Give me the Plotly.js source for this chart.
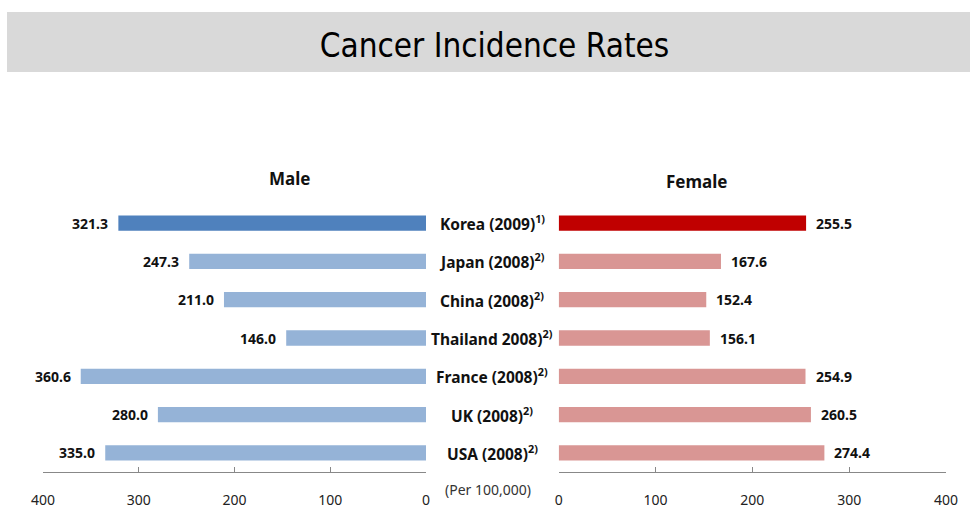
<!DOCTYPE html>
<html>
<head>
<meta charset="utf-8">
<script src="https://cdn.plot.ly/plotly-3.0.1.min.js"></script>
<style>html,body{margin:0;padding:0;background:#fff;}#chart{width:970px;height:510px;}</style>
</head>
<body>
<div id="chart"></div>
<script>
const countries = ["Korea (2009)", "Japan (2008)", "China (2008)", "Thailand 2008)", "France (2008)", "UK (2008)", "USA (2008)"];
const notes = ["1)", "2)", "2)", "2)", "2)", "2)", "2)"];
const male = [321.3, 247.3, 211.0, 146.0, 360.6, 280.0, 335.0];
const female = [255.5, 167.6, 152.4, 156.1, 254.9, 260.5, 274.4];
const ticks = [0, 100, 200, 300, 400];

const W = 970, H = 510;
const M = {l: 43, r: 24, t: 204, b: 38};
const pw = W - M.l - M.r, ph = H - M.t - M.b;
const px = x => (x - M.l) / pw;
const py = y => (H - M.b - y) / ph;

const maleColors = countries.map((c, i) => i === 0 ? "#4f81bd" : "#95b3d7");
const femaleColors = countries.map((c, i) => i === 0 ? "#c00000" : "#d99694");

const fontMain = "Noto Sans, Open Sans, sans-serif";

const traces = [
  {type: "bar", orientation: "h", x: male, y: countries, xaxis: "x", yaxis: "y",
   marker: {color: maleColors}, width: 0.4, hoverinfo: "x+y"},
  {type: "bar", orientation: "h", x: female, y: countries, xaxis: "x2", yaxis: "y2",
   marker: {color: femaleColors}, width: 0.4, hoverinfo: "x+y"}
];

const annotations = [];
countries.forEach((c, i) => {
  annotations.push({xref: "paper", yref: "y", x: px(492), y: c, text: "<b>" + c + "<sup>" + notes[i] + "</sup></b>",
    showarrow: false, xanchor: "center", yanchor: "middle", font: {family: fontMain, size: 15.5, color: "#111"}});
  annotations.push({xref: "x", yref: "y", x: male[i], y: c, text: "<b>" + male[i].toFixed(1) + "</b>",
    showarrow: false, xanchor: "right", xshift: -8, yanchor: "middle", font: {family: fontMain, size: 14, color: "#111"}});
  annotations.push({xref: "x2", yref: "y2", x: female[i], y: c, text: "<b>" + female[i].toFixed(1) + "</b>",
    showarrow: false, xanchor: "left", xshift: 8, yanchor: "middle", font: {family: fontMain, size: 14, color: "#111"}});
});
annotations.push({xref: "paper", yref: "paper", x: px(289), y: py(179), text: "<b>Male</b>", showarrow: false,
  xanchor: "center", yanchor: "middle", font: {family: fontMain, size: 17, color: "#111"}});
annotations.push({xref: "paper", yref: "paper", x: px(696), y: py(181), text: "<b>Female</b>", showarrow: false,
  xanchor: "center", yanchor: "middle", font: {family: fontMain, size: 17, color: "#111"}});
annotations.push({xref: "paper", yref: "paper", x: px(488), y: py(489), text: "(Per 100,000)", showarrow: false,
  xanchor: "center", yanchor: "middle", font: {family: fontMain, size: 14, color: "#333"}});

const axisCommon = {
  tickvals: ticks, ticks: "inside", ticklen: 5, tickcolor: "#888", showline: true, linecolor: "#888", linewidth: 1,
  showgrid: false, zeroline: false, tickfont: {family: fontMain, size: 14, color: "#222"}, ticklabelstandoff: 15, fixedrange: true
};

const layout = {
  width: W, height: H, margin: M, paper_bgcolor: "#fff", plot_bgcolor: "#fff", showlegend: false,
  title: {text: "Cancer Incidence Rates", x: 0.5, xref: "paper", xanchor: "center", y: 1 - 45 / H, yanchor: "middle",
    font: {family: "Liberation Sans Narrow, DejaVu Sans Condensed, Liberation Sans, sans-serif", size: 33, color: "#000"}},
  xaxis: Object.assign({}, axisCommon, {domain: [0, px(426)], range: [400, 0], anchor: "y"}),
  xaxis2: Object.assign({}, axisCommon, {domain: [px(558.7), 1], range: [0, 400], anchor: "y2"}),
  yaxis: {domain: [0, 1], categoryorder: "array", categoryarray: countries, autorange: "reversed",
    showticklabels: false, ticks: "", showline: false, showgrid: false, zeroline: false, anchor: "x"},
  yaxis2: {domain: [0, 1], categoryorder: "array", categoryarray: countries, autorange: "reversed",
    showticklabels: false, ticks: "", showline: false, showgrid: false, zeroline: false, anchor: "x2"},
  shapes: [{type: "rect", xref: "paper", yref: "paper", x0: px(7), x1: px(972), y0: py(72), y1: py(12),
    fillcolor: "#d9d9d9", line: {width: 0}, layer: "below"}],
  annotations: annotations
};

Plotly.newPlot("chart", traces, layout, {displayModeBar: false, staticPlot: true});
</script>
</body>
</html>
